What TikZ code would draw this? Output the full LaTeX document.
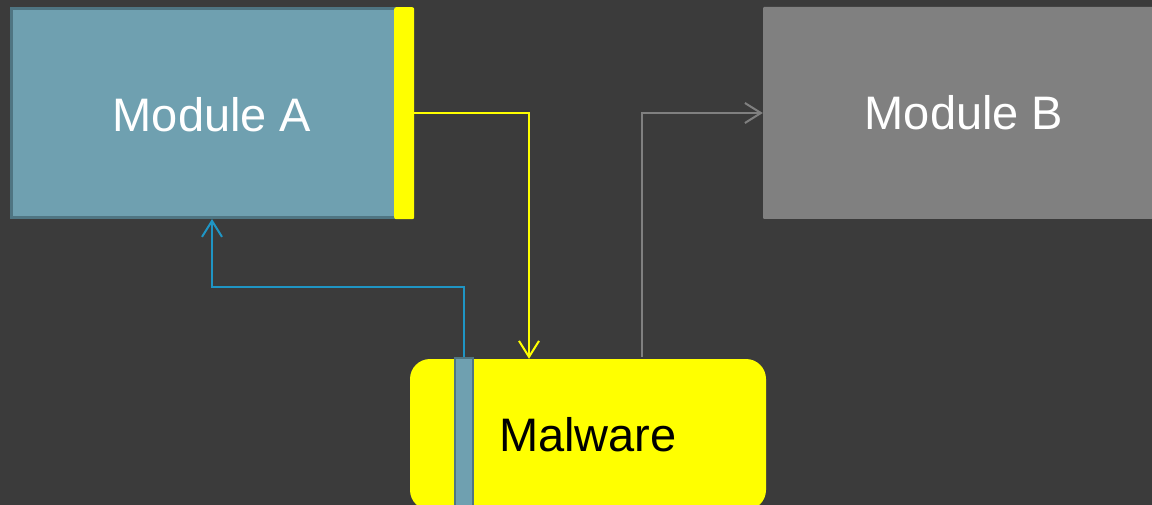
\documentclass[tikz,border=0pt]{standalone}
\usepackage{fontspec}
\setmainfont{Liberation Sans}
\usetikzlibrary{arrows.meta}
\definecolor{bg}{HTML}{3B3B3B}
\definecolor{tealfill}{HTML}{6FA0B0}
\definecolor{tealdraw}{HTML}{4F7582}
\definecolor{gfill}{HTML}{808080}
\definecolor{gline}{HTML}{808080}
\definecolor{bline}{HTML}{1F95C4}
\definecolor{yel}{HTML}{FFFF00}
\tikzset{
  boxa/.style={draw=tealdraw, fill=tealfill, line width=3pt, inner sep=0pt, anchor=center},
  boxb/.style={fill=gfill, draw=none, inner sep=0pt, rounded corners=1pt, anchor=center, text=white, font=\fontsize{47}{56}\selectfont},
  ybar/.style={fill=yel, draw=none, inner sep=0pt, rounded corners=2pt, anchor=north west},
  malbox/.style={fill=yel, draw=none, inner sep=0pt, rounded corners=20pt, anchor=center, text=black, font=\fontsize{47}{56}\selectfont},
  tbar/.style={fill=tealfill, draw=tealdraw, line width=2pt, inner sep=0pt, anchor=north west},
  lbl/.style={text=white, font=\fontsize{47}{56}\selectfont, inner sep=0pt},
  tip/.style={-{Straight Barb[length=16pt,width=20pt]}},
  yconn/.style={draw=yel, line width=2pt, tip},
  gconn/.style={draw=gline, line width=2pt, tip},
  bconn/.style={draw=bline, line width=2pt, tip},
}
\begin{document}
\begin{tikzpicture}[x=1pt,y=-1pt]
\fill[bg] (0,0) rectangle (1152,505);
\useasboundingbox (0,0) rectangle (1152,505);
\clip (0,0) rectangle (1152,505);
% Module A
\node[boxa, minimum width=384pt, minimum height=209pt] (modA) at (203.5,113) {};
\node[ybar, minimum width=20pt, minimum height=212pt] (abar) at (394,7) {};
\node[lbl] (modAtxt) at (212,115) {Module A};
% Module B
\node[boxb, minimum width=402pt, minimum height=212pt] (modB) at (964,113) {Module B};
% Malware
\node[malbox, minimum width=356pt, minimum height=151pt] (mal) at (588,434.5) {Malware};
\node[tbar, minimum width=18pt, minimum height=170pt] (mbar) at (454,357) {};
% connectors
\draw[yconn] (abar.east) -| ([xshift=-59pt]mal.north);
\draw[gconn] ([xshift=54pt,yshift=2pt]mal.north) |- (modB.west);
\coordinate (bendB) at (212,287);
\draw[bconn] (mbar.north) |- (bendB) -- ([xshift=8.5pt]modA.south);
\end{tikzpicture}
\end{document}
